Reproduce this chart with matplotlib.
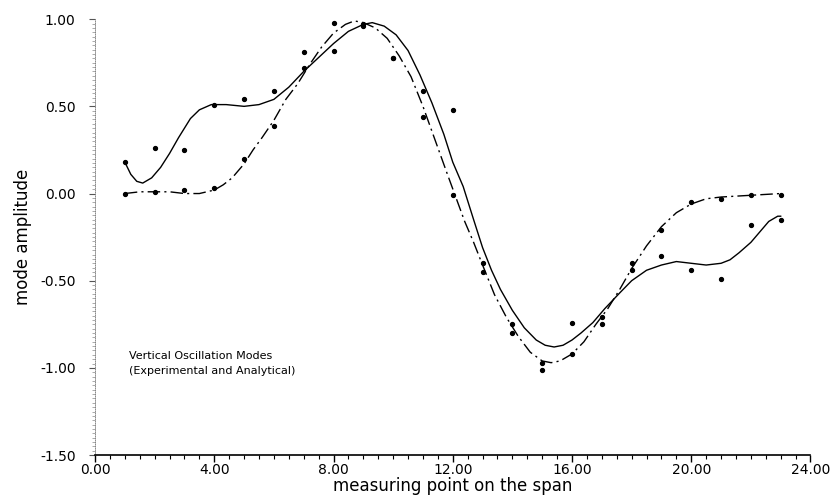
import matplotlib
matplotlib.use("Agg")
import matplotlib.pyplot as plt
from matplotlib.ticker import MultipleLocator, FixedLocator

# ---- data ----
pts_x = list(range(1, 24))
pts_a = [0.18, 0.26, 0.25, 0.51, 0.54, 0.59, 0.81, 0.82, 0.97, 0.78, 0.59, 0.48,
         -0.40, -0.75, -1.01, -0.74, -0.75, -0.40, -0.36, -0.44, -0.49, -0.18, -0.15]
pts_b = [0.00, 0.01, 0.02, 0.03, 0.20, 0.39, 0.72, 0.98, 0.96, 0.78, 0.44, -0.01,
         -0.45, -0.80, -0.97, -0.92, -0.71, -0.44, -0.21, -0.05, -0.03, -0.01, -0.01]

exp_x = [1.0, 1.2, 1.4, 1.6, 1.9, 2.2, 2.5, 2.8, 3.2, 3.5, 3.9, 4.4, 5.0, 5.5, 6.0,
         6.5, 7.0, 7.5, 8.0, 8.5, 9.0, 9.3, 9.7, 10.1, 10.5, 10.9, 11.3, 11.7, 12.0,
         12.35, 12.7, 13.0, 13.3, 13.6, 14.0, 14.4, 14.8, 15.1, 15.4, 15.7, 16.0,
         16.3, 16.7, 17.1, 17.6, 18.0, 18.5, 19.0, 19.5, 20.0, 20.5, 21.0, 21.3,
         21.6, 22.0, 22.3, 22.6, 22.9, 23.0]
exp_y = [0.18, 0.11, 0.07, 0.06, 0.09, 0.15, 0.23, 0.32, 0.43, 0.48, 0.51, 0.51,
         0.50, 0.51, 0.54, 0.61, 0.70, 0.78, 0.86, 0.93, 0.97, 0.98, 0.96, 0.91,
         0.82, 0.68, 0.52, 0.34, 0.18, 0.04, -0.15, -0.31, -0.44, -0.55, -0.67,
         -0.77, -0.84, -0.87, -0.88, -0.87, -0.84, -0.80, -0.74, -0.66, -0.57,
         -0.50, -0.44, -0.41, -0.39, -0.40, -0.41, -0.40, -0.38, -0.34, -0.28,
         -0.22, -0.16, -0.13, -0.13]

ana_x = [1.0, 1.5, 2.0, 2.5, 3.0, 3.5, 4.0, 4.3, 4.6, 5.0, 5.3, 5.6, 6.0, 6.4, 6.8,
         7.2, 7.6, 8.0, 8.4, 8.7, 9.0, 9.4, 9.8, 10.2, 10.6, 11.0, 11.4, 11.8, 12.1,
         12.4, 12.7, 13.0, 13.4, 13.8, 14.2, 14.6, 15.0, 15.3, 15.6, 16.0, 16.4,
         16.8, 17.2, 17.6, 18.0, 18.5, 19.0, 19.5, 20.0, 20.5, 21.0, 22.0, 23.0]
ana_y = [0.00, 0.01, 0.01, 0.01, 0.00, 0.00, 0.02, 0.05, 0.09, 0.17, 0.25, 0.32,
         0.42, 0.54, 0.63, 0.74, 0.84, 0.92, 0.97, 0.99, 0.98, 0.95, 0.89, 0.79,
         0.67, 0.50, 0.31, 0.12, -0.02, -0.16, -0.28, -0.41, -0.58, -0.71, -0.82,
         -0.91, -0.96, -0.97, -0.96, -0.92, -0.85, -0.75, -0.66, -0.55, -0.43,
         -0.30, -0.19, -0.11, -0.06, -0.03, -0.02, -0.01, 0.00]

x_ticks = [0, 4, 8, 12, 16, 20, 24]
x_labels = ["0.00", "4.00", "8.00", "12.00", "16.00", "20.00", "24.00"]
y_ticks = [1.0, 0.5, 0.0, -0.5, -1.0, -1.5]
y_labels = ["1.00", "0.50", "0.00", "-0.50", "-1.00", "-1.50"]

# ---- figure ----
fig = plt.figure(figsize=(8.30, 5.04), dpi=100)
ax = fig.add_axes([0.1145, 0.097, 0.862, 0.865])

ax.plot(exp_x, exp_y, color="black", lw=1.0, ls="-")
ax.plot(ana_x, ana_y, color="black", lw=1.0, ls=(0, (9, 3, 1.5, 3)))
ax.plot(pts_x, pts_a, ls="none", marker="o", ms=2.8, color="black")
ax.plot(pts_x, pts_b, ls="none", marker="o", ms=2.8, color="black")

ax.set_xlim(0, 24)
ax.set_ylim(-1.5, 1.0)

for s in ["top", "right"]:
    ax.spines[s].set_visible(False)
ax.spines["bottom"].set_linewidth(1.2)
ax.spines["left"].set_linewidth(0.6)
ax.spines["left"].set_color("#777777")
ax.spines["left"].set_linestyle((0, (1, 1.5)))

ax.xaxis.set_major_locator(FixedLocator(x_ticks))
ax.set_xticklabels(x_labels)
ax.xaxis.set_minor_locator(MultipleLocator(0.5))
ax.yaxis.set_major_locator(FixedLocator(y_ticks))
ax.set_yticklabels(y_labels)
ax.yaxis.set_minor_locator(MultipleLocator(0.025))

ax.tick_params(axis="x", which="major", direction="out", length=5, width=1.0,
               labelsize=10, pad=1, colors="black")
ax.tick_params(axis="x", which="minor", direction="out", length=3, width=0.8)
ax.tick_params(axis="y", which="major", direction="out", length=4, width=0.8,
               labelsize=10, pad=10, color="#555555", labelcolor="black")
ax.tick_params(axis="y", which="minor", direction="out", length=2.5, width=0.5,
               color="#888888")

ax.set_xlabel("measuring point on the span", fontsize=12, labelpad=0)
ax.set_ylabel("mode amplitude", fontsize=12, labelpad=6)

ax.text(1.15, -0.93, "Vertical Oscillation Modes", fontsize=8, va="center", ha="left")
ax.text(1.15, -1.02, "(Experimental and Analytical)", fontsize=8, va="center", ha="left")

fig.savefig("out.png", dpi=100)
